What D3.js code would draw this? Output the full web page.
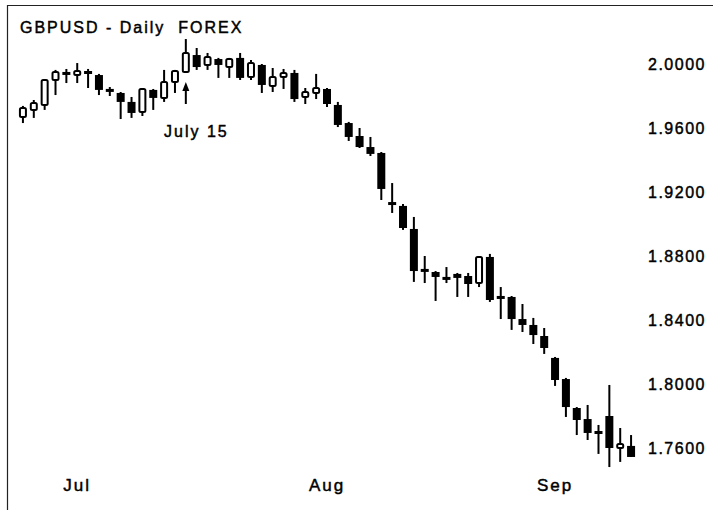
<!DOCTYPE html>
<html>
<head>
<meta charset="utf-8">
<script src="https://cdn.jsdelivr.net/npm/d3@7"></script>
<style>
  body { margin: 0; background: #fff; }
  text { font-family: "Liberation Sans", Arial, sans-serif; fill: #000; stroke: #000; stroke-width: 0.45px; }
</style>
</head>
<body>
<div id="chart_div"></div>
<script>
// trading days (category axis)
var dates = [
  "2008-06-24","2008-06-25","2008-06-26","2008-06-27","2008-06-30",
  "2008-07-01","2008-07-02","2008-07-03","2008-07-04","2008-07-07","2008-07-08","2008-07-09","2008-07-10","2008-07-11",
  "2008-07-14","2008-07-15","2008-07-16","2008-07-17","2008-07-18","2008-07-21","2008-07-22","2008-07-23","2008-07-24",
  "2008-07-25","2008-07-28","2008-07-29","2008-07-30","2008-07-31",
  "2008-08-01","2008-08-04","2008-08-05","2008-08-06","2008-08-07","2008-08-08","2008-08-11","2008-08-12","2008-08-13",
  "2008-08-14","2008-08-15","2008-08-18","2008-08-19","2008-08-20","2008-08-21","2008-08-22","2008-08-25","2008-08-26",
  "2008-08-27","2008-08-28","2008-08-29",
  "2008-09-01","2008-09-02","2008-09-03","2008-09-04","2008-09-05","2008-09-08","2008-09-09","2008-09-10"
];
var open  = [1.9669,1.9713,1.9744,1.9900,1.9944,1.9931,1.9950,1.9931,1.9838,1.9819,1.9763,1.9700,1.9838,1.9788,1.9888,
             1.9950,2.0056,1.9994,2.0031,1.9981,2.0038,1.9919,1.9994,1.9863,1.9919,1.9944,1.9794,1.9819,1.9844,1.9744,
             1.9631,1.9550,1.9481,1.9444,1.9131,1.9113,1.8969,1.8713,1.8700,1.8663,1.8688,1.8675,1.8631,1.8794,1.8544,
             1.8544,1.8406,1.8369,1.8300,1.8163,1.8031,1.7850,1.7781,1.7700,1.7800,1.7600,1.7613];
var high  = [1.9738,1.9775,1.9906,1.9963,1.9969,2.0006,1.9969,1.9938,1.9856,1.9825,1.9794,1.9850,1.9844,1.9963,1.9963,
             2.0156,2.0100,2.0069,2.0038,2.0038,2.0069,2.0025,2.0000,1.9975,1.9969,1.9963,1.9850,1.9938,1.9850,1.9763,
             1.9638,1.9600,1.9544,1.9450,1.9256,1.9125,1.9044,1.8800,1.8706,1.8731,1.8694,1.8694,1.8800,1.8813,1.8606,
             1.8550,1.8500,1.8413,1.8350,1.8169,1.8038,1.7856,1.7869,1.7744,1.7994,1.7725,1.7681];
var low   = [1.9631,1.9663,1.9713,1.9806,1.9881,1.9881,1.9850,1.9806,1.9800,1.9656,1.9663,1.9675,1.9713,1.9763,1.9819,
             1.9944,1.9963,1.9963,1.9913,1.9913,1.9900,1.9900,1.9819,1.9825,1.9844,1.9763,1.9750,1.9781,1.9731,1.9606,
             1.9519,1.9475,1.9425,1.9150,1.9069,1.8963,1.8638,1.8631,1.8519,1.8631,1.8544,1.8544,1.8606,1.8513,1.8406,
             1.8338,1.8325,1.8250,1.8188,1.7988,1.7794,1.7681,1.7650,1.7563,1.7481,1.7513,1.7544];
var close = [1.9725,1.9756,1.9900,1.9950,1.9938,1.9956,1.9944,1.9838,1.9831,1.9763,1.9694,1.9844,1.9788,1.9888,1.9956,
             2.0069,1.9981,2.0044,1.9994,2.0031,1.9913,2.0006,1.9869,1.9919,1.9944,1.9781,1.9825,1.9850,1.9750,1.9619,
             1.9544,1.9481,1.9438,1.9219,1.9119,1.8975,1.8706,1.8700,1.8669,1.8650,1.8663,1.8625,1.8794,1.8525,1.8531,
             1.8406,1.8369,1.8306,1.8225,1.8025,1.7856,1.7775,1.7694,1.7688,1.7600,1.7625,1.7544];

// axis labels
var priceTicks = [2.00, 1.96, 1.92, 1.88, 1.84, 1.80, 1.76];
var monthTicks = [{date: "2008-07-01", label: "Jul"}, {date: "2008-08-01", label: "Aug"}, {date: "2008-09-01", label: "Sep"}];
var title = "GBPUSD - Daily  FOREX";
var note = {date: "2008-07-15", label: "July 15"};

var all_width = 713, all_height = 510;

var svg = d3.select("#chart_div")
  .append("svg")
    .attr("width", all_width)
    .attr("height", all_height);

// frame (top and left edges only)
svg.append("path")
  .attr("d", "M7.5," + all_height + "V5.5H" + all_width)
  .attr("fill", "none")
  .attr("stroke", "#222")
  .attr("stroke-width", 1.2);

var data = dates.map(function(d, i) {
  return {date: d, open: open[i], high: high[i], low: low[i], close: close[i]};
});

var x = d3.scaleBand()
  .domain(dates)
  .range([17.5, 636.5])
  .padding(0);

var y = d3.scaleLinear()
  .domain([1.76, 2.00])
  .range([448, 64]);

function cx(d) { return x(d) + x.bandwidth() / 2; }

// price axis on the right, no line, no ticks
var yAxis = svg.append("g")
  .attr("transform", "translate(648,0)")
  .call(d3.axisRight(y).tickValues(priceTicks).tickSize(0).tickPadding(0).tickFormat(d3.format(".4f")));
yAxis.select(".domain").remove();
yAxis.selectAll("text")
  .attr("dy", "0.36em")
  .attr("fill", "#000")
  .style("font-size", "16px")
  .style("letter-spacing", "1.5px")
  .style("font-family", "'Liberation Sans', Arial, sans-serif");

// month labels
svg.selectAll("monthLabels")
  .data(monthTicks)
  .enter()
  .append("text")
    .attr("x", function(d) { return cx(d.date); })
    .attr("y", 491)
    .attr("text-anchor", "middle")
    .style("font-size", "17px")
    .style("letter-spacing", "2px")
    .text(function(d) { return d.label; });

// title
svg.append("text")
  .attr("x", 20)
  .attr("y", 33)
  .style("font-size", "16px")
  .style("letter-spacing", "2px")
  .style("white-space", "pre")
  .text(title);

// wicks
svg.selectAll("wicks")
  .data(data)
  .enter()
  .append("line")
    .attr("x1", function(d) { return cx(d.date); })
    .attr("x2", function(d) { return cx(d.date); })
    .attr("y1", function(d) { return y(d.high); })
    .attr("y2", function(d) { return y(d.low); })
    .attr("stroke", "#000")
    .attr("stroke-width", 2);

// down candles: solid black
svg.selectAll("downBoxes")
  .data(data.filter(function(d) { return d.close < d.open; }))
  .enter()
  .append("rect")
    .attr("x", function(d) { return cx(d.date) - 4; })
    .attr("width", 8)
    .attr("y", function(d) { return y(d.open) - (y(d.close) - y(d.open) < 3 ? 1 : 0); })
    .attr("height", function(d) { return Math.max(3, y(d.close) - y(d.open)); })
    .attr("fill", "#000");

// up candles: hollow
svg.selectAll("upBoxes")
  .data(data.filter(function(d) { return d.close >= d.open; }))
  .enter()
  .append("rect")
    .attr("x", function(d) { return cx(d.date) - 3; })
    .attr("width", 6)
    .attr("y", function(d) { return y(d.close); })
    .attr("height", function(d) { return Math.max(2, y(d.open) - y(d.close)); })
    .attr("rx", 1.5)
    .attr("fill", "#fff")
    .attr("stroke", "#000")
    .attr("stroke-width", 2);

// July 15 arrow and note
var ax = cx(note.date);
svg.append("line")
  .attr("x1", ax).attr("x2", ax)
  .attr("y1", 88).attr("y2", 104)
  .attr("stroke", "#000")
  .attr("stroke-width", 2);
svg.append("path")
  .attr("d", "M" + (ax - 3.5) + ",91L" + ax + ",82L" + (ax + 3.5) + ",91Z")
  .attr("fill", "#000");
svg.append("text")
  .attr("x", 164)
  .attr("y", 137)
  .style("font-size", "16px")
  .style("letter-spacing", "2px")
  .text(note.label);
</script>
</body>
</html>
